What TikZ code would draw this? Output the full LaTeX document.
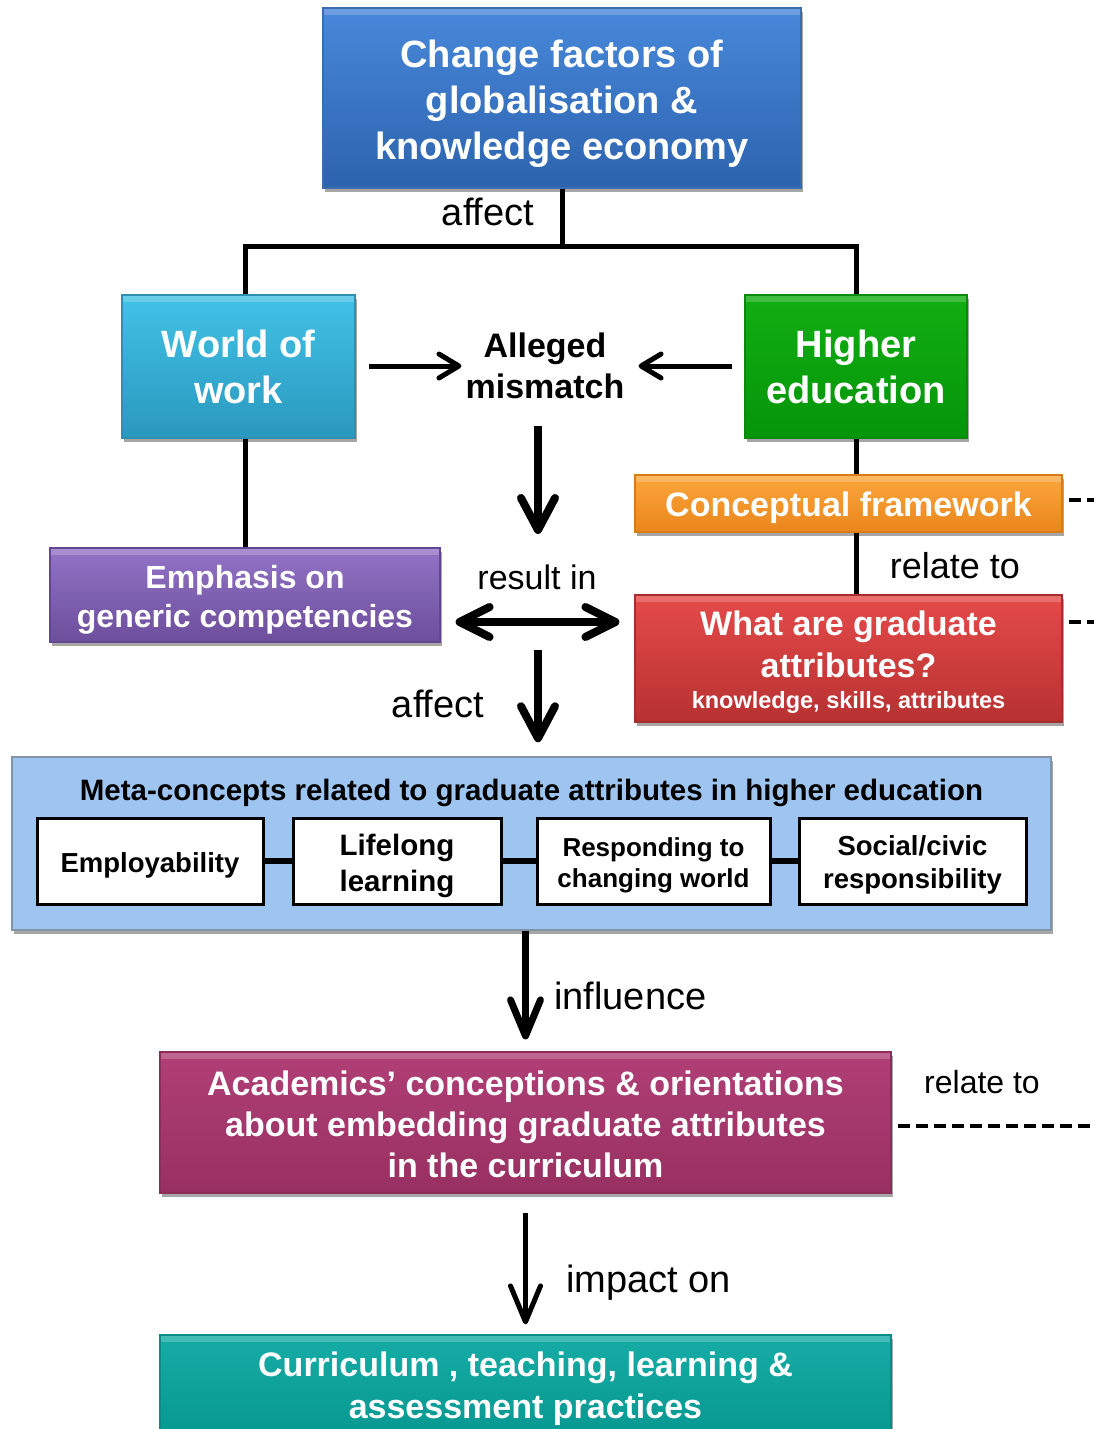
\documentclass[tikz,border=0pt]{standalone}
\usepackage{fontspec}
\setmainfont{Liberation Sans}
\usetikzlibrary{arrows.meta,shadows}

\definecolor{blueA}{HTML}{4888DA}
\definecolor{blueB}{HTML}{2C63AE}
\definecolor{blueE}{HTML}{3A6DAE}
\definecolor{cyanA}{HTML}{42C2E6}
\definecolor{cyanB}{HTML}{2A98BF}
\definecolor{cyanE}{HTML}{2E8FB3}
\definecolor{greenA}{HTML}{12AE12}
\definecolor{greenB}{HTML}{05950A}
\definecolor{greenE}{HTML}{0A8A0A}
\definecolor{orangeA}{HTML}{FCA63C}
\definecolor{orangeB}{HTML}{E9861C}
\definecolor{orangeE}{HTML}{D97B18}
\definecolor{redA}{HTML}{E54A4A}
\definecolor{redB}{HTML}{B73131}
\definecolor{redE}{HTML}{A82E2E}
\definecolor{purpleA}{HTML}{9273C6}
\definecolor{purpleB}{HTML}{6C4E9C}
\definecolor{purpleE}{HTML}{634890}
\definecolor{metaF}{HTML}{9EC4F0}
\definecolor{metaE}{HTML}{8494A8}
\definecolor{plumA}{HTML}{B03F76}
\definecolor{plumB}{HTML}{983061}
\definecolor{plumE}{HTML}{8C2D5A}
\definecolor{tealA}{HTML}{16ACA5}
\definecolor{tealB}{HTML}{069790}
\definecolor{tealE}{HTML}{0A8C86}

\newcommand{\setfs}[2]{\fontsize{#1}{#2}\selectfont}
% invisible strut that lowers a line of text inside its box
\newcommand{\lift}[1]{\rule{0pt}{#1}}

\tikzset{
  cbox/.style={rectangle, inner sep=0pt, align=center, text=white, line width=1.2pt,
    drop shadow={shadow xshift=2pt, shadow yshift=-4pt, opacity=.35, fill=black},
    path picture={\fill[white,opacity=.2] (path picture bounding box.north west)
      rectangle ([yshift=-7pt]path picture bounding box.north east);}},
  wbox/.style={rectangle, inner sep=0pt, align=center, fill=white, draw=black,
    line width=3pt, minimum height=86pt},
  lbl/.style={inner sep=0pt, anchor=base},
  link/.style={line width=5pt},
  dashlink/.style={line width=3.5pt, dash pattern=on 12pt off 6pt, dash phase=12pt},
  thinarrow/.style={line width=5pt, -{Straight Barb[round, length=20pt, width=24pt]}},
  bigarrow/.style={line width=8pt, -{Straight Barb[round, length=32pt, width=34pt]}},
  longarrow/.style={line width=7pt, -{Straight Barb[round, length=36pt, width=30pt]}},
  dblarrow/.style={line width=8pt, {Straight Barb[round, length=30pt, width=30pt]}-{Straight Barb[round, length=30pt, width=30pt]}},
}

\begin{document}
\begin{tikzpicture}[x=1pt, y=-1pt]
\useasboundingbox (0,0) rectangle (1094,1429);

% top level
\node[cbox, top color=blueA, bottom color=blueB, draw=blueE,
  minimum width=478pt, minimum height=180pt, font=\setfs{38}{46}\bfseries]
  (change) at (562,98) {\lift{38.7pt}Change factors of\\globalisation \&\\knowledge economy};

% second level
\node[cbox, top color=cyanA, bottom color=cyanB, draw=cyanE,
  minimum width=233pt, minimum height=143pt, font=\setfs{38}{46}\bfseries]
  (world) at (238.5,366.5) {World of\\work};
\node[cbox, top color=greenA, bottom color=greenB, draw=greenE,
  minimum width=222pt, minimum height=143pt, font=\setfs{38}{46}\bfseries]
  (higher) at (856,366.5) {Higher\\education};
\node[inner sep=0pt, align=center, font=\setfs{34}{41}\bfseries]
  (mismatch) at (545,366) {Alleged\\mismatch};

% third level
\node[cbox, top color=purpleA, bottom color=purpleB, draw=purpleE,
  minimum width=390pt, minimum height=94pt, font=\setfs{32}{39}\bfseries]
  (emph) at (245,595) {\lift{33.4pt}Emphasis on\\generic competencies};
\node[cbox, top color=orangeA, bottom color=orangeB, draw=orangeE,
  minimum width=427pt, minimum height=57pt, font=\setfs{34}{41}\bfseries]
  (concept) at (848.5,503.5) {\lift{32.8pt}Conceptual framework};
\node[cbox, top color=redA, bottom color=redB, draw=redE,
  minimum width=427pt, minimum height=127pt, font=\setfs{34}{42}\bfseries]
  (attr) at (848.5,658.5) {\lift{31.8pt}What are graduate\\attributes?\\[-11pt]{\setfs{23.5}{28}knowledge, skills, attributes}};

% meta-concepts panel
\node[rectangle, fill=metaF, draw=metaE, line width=1.5pt, inner sep=0pt,
  minimum width=1039pt, minimum height=173pt,
  drop shadow={shadow xshift=2pt, shadow yshift=-4pt, opacity=.35, fill=black}]
  (meta) at (531.5,843.5) {};
\node[inner sep=0pt, font=\setfs{29.5}{34}\bfseries]
  (metatitle) at (531.5,793) {Meta-concepts related to graduate attributes in higher education};
\node[wbox, minimum width=226pt, font=\setfs{27.5}{33}\bfseries] (employ) at (150,861) {\lift{28pt}Employability};
\node[wbox, minimum width=208pt, font=\setfs{29.5}{36}\bfseries] (lifelong) at (397,861) {\lift{30.5pt}Lifelong\\learning};
\node[wbox, minimum width=233pt, font=\setfs{26}{31}\bfseries] (respond) at (653.5,861) {\lift{27pt}Responding to\\changing world};
\node[wbox, minimum width=227pt, font=\setfs{27.5}{33}\bfseries] (social) at (912.5,861) {\lift{28pt}Social/civic\\responsibility};

% lower levels
\node[cbox, top color=plumA, bottom color=plumB, draw=plumE,
  minimum width=731pt, minimum height=141pt, font=\setfs{34}{41}\bfseries]
  (academics) at (525.5,1122.5) {\lift{28.8pt}Academics’ conceptions \& orientations\\about embedding graduate attributes\\in the curriculum};
\node[cbox, top color=tealA, bottom color=tealB, draw=tealE,
  minimum width=731pt, minimum height=104pt, font=\setfs{34}{42}\bfseries]
  (curric) at (525.5,1387) {\lift{28.8pt}Curriculum , teaching, learning \&\\assessment practices};

% junction points
\coordinate (split) at (562,246);
\coordinate (wline) at (245,246);
\coordinate (mtop) at (538,426);
\coordinate (mbot) at (538,534);
\coordinate (dbl) at (537,622);
\coordinate (afftop) at (538,650);
\coordinate (cdash) at (1094,500);
\coordinate (adash) at (1094,622);
\coordinate (pdash) at (1094,1126);

% tree connectors
\draw[link] (change.south) -- (split);
\draw[link] (wline |- world.north) |- (split) -| (higher.north);
\draw[link] (wline |- world.south) -- (wline |- emph.north);
\draw[link] (higher.south) -- (higher.south |- concept.north);
\draw[link] (higher.south |- concept.south) -- (higher.south |- attr.north);
\draw[line width=6pt] (employ.east) -- (lifelong.west);
\draw[line width=6pt] (lifelong.east) -- (respond.west);
\draw[line width=6pt] (respond.east) -- (social.west);

% dashed links to the right margin
\draw[dashlink] (concept.east |- cdash) -- (cdash);
\draw[dashlink] (attr.east |- adash) -- (adash);
\draw[dashlink] (academics.east |- pdash) -- (pdash);

% arrows
\draw[thinarrow, shorten <=13pt, shorten >=4pt] (world.east |- mismatch) -- (mismatch.west);
\draw[thinarrow, shorten <=12pt, shorten >=14pt] (higher.west |- mismatch) -- (mismatch.east);
\draw[bigarrow] (mtop) -- (mbot);
\draw[dblarrow, shorten <=15pt, shorten >=15pt] (emph.east |- dbl) -- (attr.west |- dbl);
\draw[bigarrow, shorten >=14pt] (afftop) -- (afftop |- meta.north);
\draw[longarrow, shorten >=12pt] (academics.north |- meta.south) -- (academics.north);
\draw[longarrow, line width=5pt, shorten <=19pt, shorten >=10pt] (academics.south) -- (curric.north);

% connector labels
\node[lbl, font=\setfs{38}{46}] (laffect) at (488,225) {affect};
\node[lbl, font=\setfs{36}{42}] (lrelate) at (955,578) {relate to};
\node[lbl, font=\setfs{34}{40}] (lresult) at (537,589) {result in};
\node[lbl, font=\setfs{38}{46}] (laffect2) at (438,717) {affect};
\node[lbl, anchor=base west, font=\setfs{38}{46}] (linfl) at (554,1009) {influence};
\node[lbl, font=\setfs{32}{38}] (lrelate2) at (982,1093) {relate to};
\node[lbl, anchor=base west, font=\setfs{38}{46}] (limpact) at (566,1292) {impact on};
\end{tikzpicture}
\end{document}
